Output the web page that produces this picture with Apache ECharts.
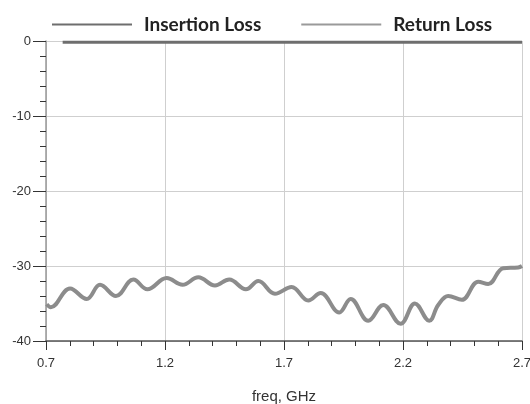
<!DOCTYPE html>
<html>
<head>
<meta charset="utf-8">
<script src="https://cdn.jsdelivr.net/npm/echarts@6/dist/echarts.min.js"></script>
<style>html,body{margin:0;padding:0;background:#fff}#c{width:530px;height:404px}</style>
</head>
<body>
<div id="c"></div>
<script>
var seriesNames = ['Insertion Loss', 'Return Loss'];
var insertionFreq = [0.77, 2.7];
var insertionLoss = [-0.15, -0.15];
var returnFreq = [0.703, 0.72, 0.801, 0.871, 0.927, 0.994, 1.067, 1.126, 1.207, 1.274, 1.340, 1.410, 1.470, 1.540, 1.592, 1.662, 1.732, 1.802, 1.854, 1.932, 1.980, 2.054, 2.117, 2.190, 2.250, 2.310, 2.348, 2.390, 2.447, 2.516, 2.558, 2.621, 2.684, 2.700];
var returnLoss = [-35.1, -35.5, -33.0, -34.4, -32.5, -34.0, -31.8, -33.1, -31.6, -32.5, -31.5, -32.6, -31.8, -33.1, -32.0, -33.7, -32.8, -34.6, -33.6, -36.2, -34.4, -37.3, -35.2, -37.7, -35.0, -37.3, -35.2, -34.0, -34.5, -32.1, -32.4, -30.3, -30.2, -30.0];
var xTicks = [0.7, 1.2, 1.7, 2.2, 2.7];
var yTicks = [-40, -30, -20, -10, 0];
var xTitle = 'freq, GHz';

function zip(a, b) { return a.map(function (v, i) { return [v, b[i]]; }); }

var chart = echarts.init(document.getElementById('c'), null, { renderer: 'canvas' });
chart.setOption({
  animation: false,
  backgroundColor: '#ffffff',
  legend: {
    left: 47, top: 10,
    icon: 'rect', itemWidth: 80, itemHeight: 2, itemGap: 40,
    textStyle: { fontFamily: 'Lato', fontWeight: 'bold', fontSize: 19, color: '#222', padding: [0, 0, 0, 7] },
    data: seriesNames
  },
  grid: { left: 46, right: 8, top: 41, bottom: 63, containLabel: false, outerBoundsMode: 'none' },
  xAxis: {
    type: 'value', min: xTicks[0], max: xTicks[xTicks.length - 1], interval: 0.5,
    name: xTitle, nameLocation: 'middle', nameGap: 48,
    nameTextStyle: { fontFamily: 'Liberation Sans', fontSize: 15, color: '#333' },
    axisLine: { show: true, onZero: false, lineStyle: { color: '#555', width: 1.5 } },
    axisTick: { show: true, length: 9, lineStyle: { color: '#333', width: 1 } },
    minorTick: { show: true, splitNumber: 5, length: 5, lineStyle: { color: '#333', width: 1 } },
    axisLabel: { fontFamily: 'Liberation Sans', fontSize: 13, color: '#333', margin: 16,
      formatter: function (v) { return v.toFixed(1); } },
    splitLine: { show: true, lineStyle: { color: '#cfcfcf', width: 1 } }
  },
  yAxis: {
    type: 'value', min: yTicks[0], max: yTicks[yTicks.length - 1], interval: 10,
    axisLine: { show: true, onZero: false, lineStyle: { color: '#999', width: 1.5 } },
    axisTick: { show: true, length: 13, lineStyle: { color: '#333', width: 1 } },
    minorTick: { show: true, splitNumber: 5, length: 6, lineStyle: { color: '#333', width: 1 } },
    axisLabel: { fontFamily: 'Liberation Sans', fontSize: 13, color: '#333', margin: 15 },
    splitLine: { show: true, lineStyle: { color: '#cfcfcf', width: 1 } }
  },
  series: [
    {
      name: seriesNames[0], type: 'line', showSymbol: false, symbol: 'none',
      data: zip(insertionFreq, insertionLoss),
      lineStyle: { color: '#6e6e6e', width: 3 }, itemStyle: { color: '#6e6e6e' }, z: 3
    },
    {
      name: seriesNames[1], type: 'line', showSymbol: false, symbol: 'none', smooth: 0.4,
      data: zip(returnFreq, returnLoss),
      lineStyle: { color: '#8c8c8c', width: 4 }, itemStyle: { color: '#9a9a9a' }, z: 2
    }
  ]
});
</script>
</body>
</html>
